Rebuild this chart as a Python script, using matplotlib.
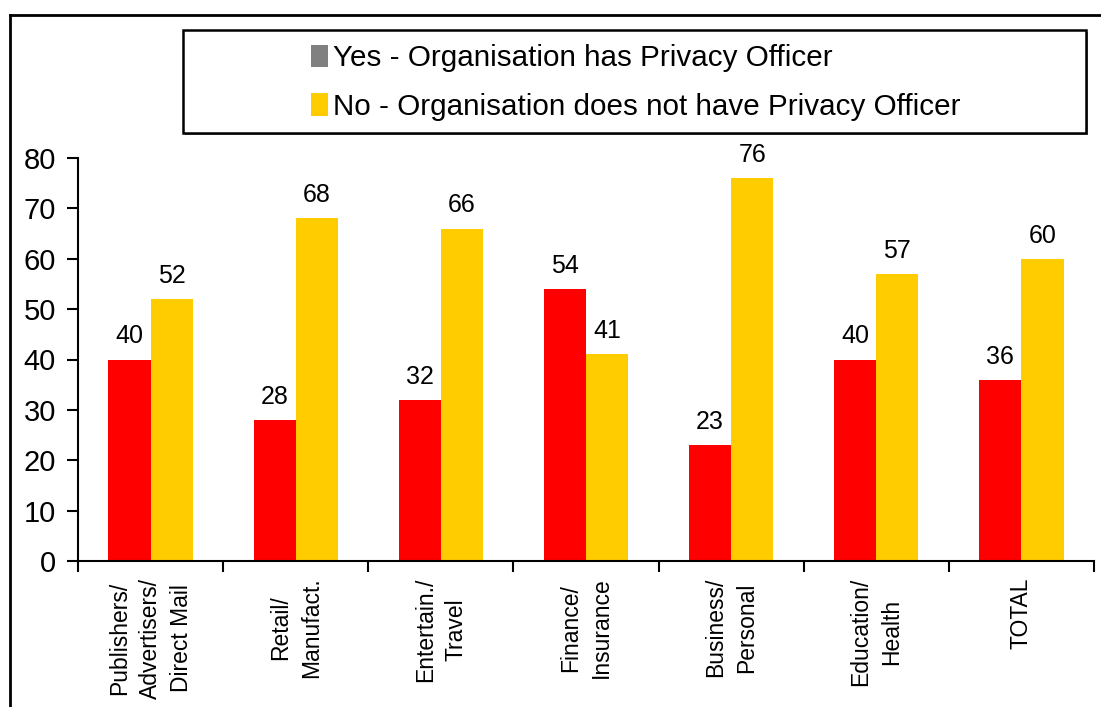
import matplotlib
matplotlib.use("Agg")
import matplotlib.pyplot as plt
import numpy as np
from matplotlib.patches import Rectangle, Patch
from matplotlib.lines import Line2D

plt.rcParams['font.family'] = ['Liberation Sans', 'DejaVu Sans']

categories = ["Publishers/\nAdvertisers/\nDirect Mail", "Retail/\nManufact.",
              "Entertain./\nTravel", "Finance/\nInsurance", "Business/\nPersonal",
              "Education/\nHealth", "TOTAL"]
yes_values = [40, 28, 32, 54, 23, 40, 36]
no_values = [52, 68, 66, 41, 76, 57, 60]
yes_label = "Yes - Organisation has Privacy Officer"
no_label = "No - Organisation does not have Privacy Officer"
y_ticks = [0, 10, 20, 30, 40, 50, 60, 70, 80]

RED = "#FF0000"
YELLOW = "#FFCC00"
GREY = "#808080"

fig = plt.figure(figsize=(11.01, 7.07), dpi=100)
W, H = 1101, 707

def fx(px):
    return px / W

def fy(py):
    return 1 - py / H

ax = fig.add_axes([fx(78), fy(561), fx(1094) - fx(78), fy(158) - fy(561)])

x = np.arange(len(categories))
bw = 0.29
ax.bar(x - bw / 2, yes_values, bw, color=RED, linewidth=0)
ax.bar(x + bw / 2, no_values, bw, color=YELLOW, linewidth=0)

for xi, v in zip(x, yes_values):
    ax.text(xi - bw / 2, v + 3.2, str(v), ha='center', va='baseline', fontsize=18)
for xi, v in zip(x, no_values):
    ax.text(xi + bw / 2, v + 3.2, str(v), ha='center', va='baseline', fontsize=18)

ax.set_xlim(-0.5, len(categories) - 0.5)
ax.set_ylim(0, 80)
ax.set_yticks(y_ticks)
ax.tick_params(axis='y', labelsize=21, length=8, width=1.5, direction='out', pad=8)

# category boundary ticks, labels centred on each group
ax.set_xticks(np.arange(len(categories) + 1) - 0.5)
ax.set_xticklabels([])
ax.tick_params(axis='x', length=8, width=1.5, direction='out')
ax.set_xticks(x, minor=True)
ax.set_xticklabels(categories, minor=True, rotation=90, fontsize=16.5,
                   ha='center', va='top', multialignment='center', linespacing=1.45)
ax.tick_params(axis='x', which='minor', length=0, pad=12)

for s in ['top', 'right']:
    ax.spines[s].set_visible(False)
for s in ['left', 'bottom']:
    ax.spines[s].set_linewidth(1.5)

# outer frame lines
fig.add_artist(Line2D([fx(10), fx(10)], [fy(15), 0], color='black', lw=2))
fig.add_artist(Line2D([fx(10), 1], [fy(15), fy(15)], color='black', lw=2))

# legend box with shadow
lx0, lx1, ly0, ly1 = 183, 1086, 30, 133
fig.add_artist(Rectangle((fx(lx0 + 2), fy(ly1 + 2)), fx(lx1) - fx(lx0), fy(ly0) - fy(ly1),
                         facecolor=GREY, edgecolor='none'))
fig.add_artist(Rectangle((fx(lx0), fy(ly1)), fx(lx1) - fx(lx0), fy(ly0) - fy(ly1),
                         facecolor='white', edgecolor='black', linewidth=1.8))
handles = [Patch(facecolor=GREY, edgecolor='none'), Patch(facecolor=YELLOW, edgecolor='none')]
fig.legend(handles, [yes_label, no_label], loc='center',
           bbox_to_anchor=(fx((lx0 + lx1) / 2 + 1), fy((ly0 + ly1) / 2 + 1)),
           frameon=False, fontsize=21.3, handlelength=0.58, handleheight=0.8,
           handletextpad=0.18, labelspacing=0.69, borderpad=0)

fig.savefig("out.png", dpi=100)
